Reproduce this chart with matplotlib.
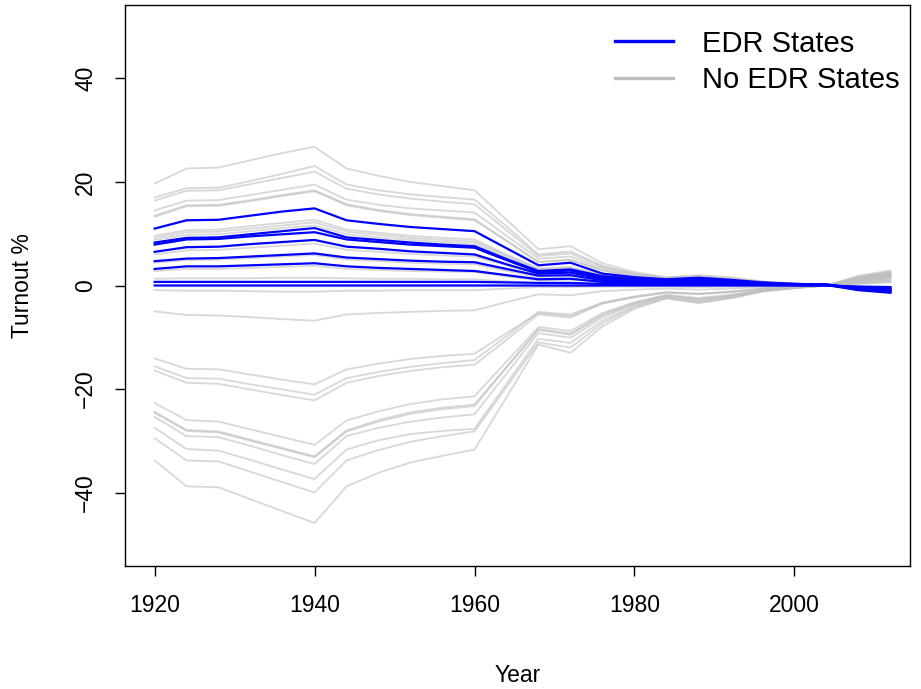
import matplotlib
matplotlib.use("Agg")
import matplotlib.pyplot as plt
from matplotlib.lines import Line2D

plt.rcParams['font.family'] = ['Liberation Sans', 'DejaVu Sans']

years = [1920, 1924, 1928, 1932, 1936, 1940, 1944, 1948, 1952, 1956, 1960, 1964,
         1968, 1972, 1976, 1980, 1984, 1988, 1992, 1996, 2000, 2004, 2008, 2012]

# states with election day registration (blue)
edr_states = [
    [11.0, 12.6, 12.7, 13.5, 14.3, 14.9, 12.6, 11.9, 11.3, 10.9, 10.5, 7.2, 3.9, 4.4, 2.3, 1.6, 1.2, 1.5, 1.1, 0.6, 0.3, 0.2, -0.8, -1.1],
    [8.3, 9.2, 9.3, 9.9, 10.5, 11.1, 9.3, 8.8, 8.3, 7.9, 7.6, 5.1, 2.8, 3.1, 1.8, 1.3, 1.0, 1.2, 0.9, 0.5, 0.3, 0.2, -0.6, -0.9],
    [7.9, 8.9, 9.0, 9.5, 9.9, 10.3, 8.9, 8.4, 7.9, 7.6, 7.3, 4.9, 2.6, 2.9, 1.6, 1.1, 0.9, 1.0, 0.8, 0.4, 0.2, 0.15, -0.7, -1.2],
    [6.5, 7.4, 7.5, 8.0, 8.4, 8.8, 7.5, 7.1, 6.6, 6.3, 6.0, 4.1, 2.3, 2.5, 1.3, 0.9, 0.7, 0.8, 0.6, 0.3, 0.2, 0.1, -0.9, -1.4],
    [4.7, 5.2, 5.3, 5.6, 5.9, 6.2, 5.4, 5.1, 4.8, 4.6, 4.5, 3.2, 1.9, 2.0, 1.0, 0.7, 0.5, 0.6, 0.4, 0.2, 0.1, 0.1, -0.5, -0.8],
    [3.2, 3.7, 3.7, 3.9, 4.1, 4.3, 3.7, 3.4, 3.2, 3.0, 2.8, 2.0, 1.2, 1.3, 0.7, 0.5, 0.4, 0.4, 0.3, 0.2, 0.1, 0.05, -0.4, -0.6],
    [0.7, 0.7, 0.7, 0.7, 0.7, 0.7, 0.7, 0.7, 0.7, 0.7, 0.7, 0.6, 0.5, 0.5, 0.3, 0.2, 0.2, 0.2, 0.1, 0.1, 0.05, 0.05, -0.3, -0.5],
    [0.0, 0.0, 0.0, 0.0, 0.0, 0.0, 0.0, 0.0, 0.0, 0.0, 0.0, 0.0, 0.0, 0.0, 0.0, 0.0, 0.0, 0.0, 0.0, 0.0, 0.0, 0.0, -0.2, -0.3],
]

# states without election day registration (grey)
no_edr_states = [
    [19.7, 22.6, 22.8, 24.2, 25.6, 26.8, 22.6, 21.2, 20.0, 19.2, 18.4, 12.7, 7.0, 7.6, 4.3, 2.6, 1.6, 2.0, 1.6, 0.8, 0.4, -0.1, 1.5, 2.4],
    [17.0, 18.8, 18.9, 20.2, 21.6, 23.1, 19.5, 18.4, 17.6, 17.1, 16.6, 11.4, 6.0, 6.6, 3.8, 2.3, 1.5, 1.8, 1.4, 0.7, 0.4, -0.1, 1.9, 2.9],
    [16.4, 18.3, 18.4, 19.6, 20.8, 22.0, 18.7, 17.6, 16.8, 16.2, 15.7, 10.7, 5.7, 6.2, 3.6, 2.2, 1.4, 1.7, 1.3, 0.7, 0.3, -0.1, 1.2, 2.0],
    [14.5, 16.4, 16.5, 17.5, 18.5, 19.5, 16.6, 15.6, 14.9, 14.5, 14.1, 9.6, 5.2, 5.6, 3.3, 2.0, 1.3, 1.6, 1.2, 0.6, 0.3, -0.1, 1.4, 2.6],
    [13.5, 15.5, 15.6, 16.5, 17.5, 18.4, 15.7, 14.6, 13.8, 13.3, 12.8, 8.7, 4.6, 5.0, 3.0, 1.8, 1.2, 1.4, 1.1, 0.5, 0.2, -0.1, 1.0, 1.8],
    [13.3, 15.3, 15.4, 16.3, 17.3, 18.2, 15.5, 14.4, 13.6, 13.1, 12.6, 8.6, 4.5, 4.9, 2.9, 1.7, 1.1, 1.3, 1.0, 0.5, 0.2, -0.1, 1.3, 2.2],
    [9.6, 10.7, 10.8, 11.5, 12.1, 12.7, 10.8, 10.2, 9.6, 9.2, 8.9, 6.0, 3.3, 3.6, 2.1, 1.4, 1.0, 1.2, 0.9, 0.5, 0.2, -0.1, 0.9, 1.5],
    [9.2, 10.3, 10.4, 11.0, 11.6, 12.2, 10.4, 9.8, 9.2, 8.8, 8.5, 5.8, 3.1, 3.4, 2.0, 1.3, 0.9, 1.1, 0.8, 0.4, 0.2, -0.1, 1.1, 1.9],
    [8.8, 9.8, 9.9, 10.5, 11.1, 11.6, 9.9, 9.3, 8.8, 8.4, 8.1, 5.5, 3.0, 3.2, 1.9, 1.2, 0.8, 1.0, 0.8, 0.4, 0.2, -0.1, 0.7, 1.2],
    [6.0, 6.8, 6.9, 7.3, 7.7, 8.1, 6.9, 6.5, 6.1, 5.8, 5.6, 3.9, 2.2, 2.4, 1.4, 0.9, 0.6, 0.7, 0.5, 0.3, 0.1, -0.1, 1.3, 2.2],
    [4.4, 4.9, 5.0, 5.3, 5.6, 5.9, 5.0, 4.7, 4.4, 4.2, 4.1, 2.8, 1.6, 1.7, 1.0, 0.7, 0.5, 0.5, 0.4, 0.2, 0.1, -0.1, 0.6, 1.0],
    [2.8, 3.2, 3.2, 3.4, 3.6, 3.8, 3.2, 3.0, 2.8, 2.7, 2.6, 1.8, 1.0, 1.1, 0.7, 0.5, 0.3, 0.4, 0.3, 0.1, 0.1, -0.1, 0.4, 0.8],
    [1.3, 1.4, 1.4, 1.4, 1.5, 1.5, 1.4, 1.3, 1.3, 1.2, 1.2, 0.8, 0.5, 0.5, 0.3, 0.2, 0.2, 0.2, 0.1, 0.1, 0.0, -0.1, 0.3, 0.6],
    [-0.9, -1.0, -1.0, -1.1, -1.2, -1.2, -1.0, -1.0, -0.9, -0.9, -0.9, -0.6, -0.3, -0.3, -0.2, -0.2, -0.2, -0.3, -0.2, -0.1, -0.1, 0.0, -0.9, -1.4],
    [-5.0, -5.7, -5.8, -6.1, -6.5, -6.8, -5.6, -5.3, -5.1, -4.9, -4.8, -3.2, -1.7, -1.9, -1.1, -0.8, -0.6, -0.8, -0.6, -0.3, -0.2, 0.0, 0.5, 0.9],
    [-14.1, -16.1, -16.2, -17.2, -18.2, -19.1, -16.2, -15.1, -14.2, -13.6, -13.2, -9.2, -5.3, -5.9, -3.4, -2.2, -1.3, -1.6, -1.2, -0.6, -0.3, 0.0, 1.2, 2.0],
    [-15.6, -17.9, -18.0, -19.1, -20.1, -21.1, -17.9, -16.7, -15.7, -15.0, -14.4, -9.8, -5.1, -5.6, -3.3, -2.1, -1.3, -1.6, -1.2, -0.6, -0.3, 0.0, 1.6, 2.7],
    [-16.4, -18.8, -19.0, -20.1, -21.2, -22.2, -18.8, -17.5, -16.5, -15.8, -15.3, -10.5, -5.6, -6.2, -3.5, -2.3, -1.4, -1.7, -1.3, -0.6, -0.3, 0.0, 1.0, 1.6],
    [-22.7, -26.0, -26.3, -27.8, -29.3, -30.8, -26.1, -24.3, -22.9, -22.0, -21.4, -14.7, -8.0, -8.8, -5.3, -3.2, -1.8, -2.4, -1.8, -0.8, -0.4, 0.0, 1.4, 2.3],
    [-24.4, -27.9, -28.2, -29.8, -31.4, -33.0, -28.0, -26.0, -24.5, -23.6, -23.0, -15.7, -8.4, -9.3, -5.6, -3.4, -1.9, -2.6, -1.9, -0.9, -0.4, 0.0, 1.1, 1.9],
    [-24.6, -28.1, -28.4, -30.0, -31.6, -33.2, -28.2, -26.3, -24.8, -23.9, -23.3, -15.9, -8.6, -9.5, -5.8, -3.5, -2.0, -2.7, -2.0, -0.9, -0.4, 0.0, 1.7, 2.6],
    [-25.4, -29.1, -29.3, -31.0, -32.8, -34.5, -29.1, -27.5, -26.3, -25.5, -24.9, -17.0, -9.2, -10.1, -6.2, -3.7, -2.1, -2.9, -2.1, -1.0, -0.5, 0.0, 0.8, 1.4],
    [-27.5, -31.6, -31.9, -33.7, -35.6, -37.4, -31.7, -29.9, -28.7, -28.1, -27.7, -19.0, -10.3, -11.1, -6.8, -4.0, -2.3, -3.1, -2.3, -1.1, -0.5, 0.0, 1.3, 2.1],
    [-29.5, -33.8, -34.0, -36.0, -38.0, -40.0, -33.8, -31.8, -30.2, -29.1, -28.2, -19.6, -11.0, -12.0, -7.3, -4.2, -2.4, -3.3, -2.4, -1.1, -0.5, 0.0, 0.9, 1.6],
    [-33.8, -38.8, -39.0, -41.3, -43.6, -45.9, -38.8, -36.2, -34.2, -32.9, -31.7, -21.6, -11.4, -13.0, -7.9, -4.5, -2.5, -3.4, -2.5, -1.2, -0.5, 0.0, 1.5, 2.4],
]

x_ticks = [1920, 1940, 1960, 1980, 2000]
y_ticks = [-40, -20, 0, 20, 40]

fig = plt.figure(figsize=(9.21, 6.89), dpi=100)
ax = fig.add_axes([125/921, 123/689, 785/921, 561/689])

for s in no_edr_states:
    ax.plot(years, s, color='#bebebe', lw=1.3, alpha=0.6)
for s in edr_states:
    ax.plot(years, s, color='#0000ff', lw=1.6)

ax.set_xlim(1916.3, 2014.45)
ax.set_ylim(-54.2, 54.2)
ax.set_xticks(x_ticks)
ax.set_yticks(y_ticks)
ax.set_yticklabels([str(v).replace('-', '\u2212') for v in y_ticks], rotation=90, va='center')
ax.tick_params(labelsize=16.5, length=7, width=1, direction='out')
ax.tick_params(axis='x', pad=13)
ax.tick_params(axis='y', pad=13)
for sp in ax.spines.values():
    sp.set_linewidth(1)

ax.set_xlabel("Year", fontsize=16.5, labelpad=34)
ax.set_ylabel("Turnout %", fontsize=16.5, labelpad=29)

handles = [Line2D([0], [0], color='#0000ff', lw=2.4),
           Line2D([0], [0], color='#bebebe', lw=2.4)]
ax.legend(handles, ["EDR States", "No EDR States"], loc='upper left',
          bbox_to_anchor=(0.624, 0.956), frameon=False, fontsize=21,
          handlelength=2.0, handletextpad=1.0, labelspacing=0.3, borderpad=0,
          borderaxespad=0)

fig.savefig("out.png", dpi=100)
